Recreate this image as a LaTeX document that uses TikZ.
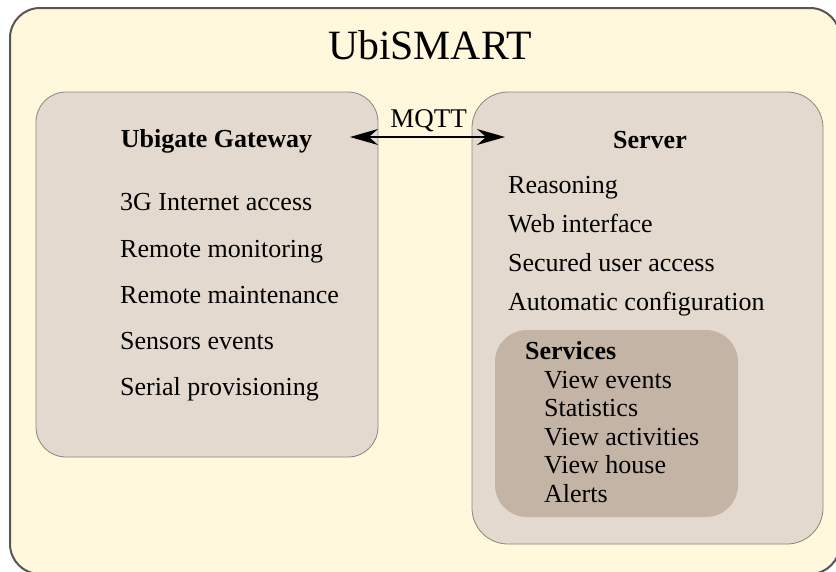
\documentclass[tikz,border=0pt]{standalone}
\usepackage{fontspec}
\setmainfont{Liberation Serif}
\usetikzlibrary{arrows.meta}
\definecolor{outerfill}{HTML}{FFF8DC}
\definecolor{outerline}{HTML}{5A5555}
\definecolor{boxfill}{HTML}{E4D9CE}
\definecolor{boxline}{HTML}{8C8480}
\definecolor{svcfill}{HTML}{C4B4A6}
\tikzset{
  item/.style={anchor=base west, inner sep=0pt, font=\fontsize{26}{28}\selectfont},
  head/.style={anchor=base, inner sep=0pt, font=\fontsize{26}{28}\selectfont\bfseries},
  svchead/.style={anchor=base west, inner sep=0pt, font=\fontsize{26}{28}\selectfont\bfseries},
}
\begin{document}
\begin{tikzpicture}[x=1pt,y=-1pt]
\useasboundingbox (0,0) rectangle (836,571);
% outer box
\draw[outerline, line width=2pt, fill=outerfill, rounded corners=30pt] (10,8) rectangle (840,574);
\node[anchor=base, inner sep=0pt, font=\fontsize{41.7}{44}\selectfont] (title) at (430,59) {UbiSMART};
% gateway box
\draw[boxline, line width=0.8pt, fill=boxfill, rounded corners=30pt] (36,92) rectangle (378,457);
\node (gwbox) at (207,274.5) {};
% server box
\draw[boxline, line width=0.8pt, fill=boxfill, rounded corners=36pt] (472,92) rectangle (823,544);
\node (srvbox) at (647.5,318) {};
% services box
\fill[svcfill, rounded corners=32pt] (495,330) rectangle (738,517);
% gateway texts
\node[head] (gwtitle) at (216.5,147) {Ubigate Gateway};
\node[item] (g1) at (120,210) {3G Internet access};
\node[item] (g2) at (120,257) {Remote monitoring};
\node[item] (g3) at (120,303) {Remote maintenance};
\node[item] (g4) at (120,349) {Sensors events};
\node[item] (g5) at (120,395) {Serial provisioning};
% server texts
\node[head] (srvtitle) at (650,148) {Server};
\node[item] (s1) at (508,193) {Reasoning};
\node[item] (s2) at (508,232) {Web interface};
\node[item] (s3) at (508,271) {Secured user access};
\node[item] (s4) at (508,310) {Automatic configuration};
% services
\node[svchead] (svctitle) at (525,359) {Services};
\node[item] (v1) at (544,388) {View events};
\node[item] (v2) at (544,416.5) {Statistics};
\node[item] (v3) at (544,445) {View activities};
\node[item] (v4) at (544,473.5) {View house};
\node[item] (v5) at (544,502) {Alerts};
% MQTT
\node[anchor=base, inner sep=0pt, font=\fontsize{27}{29}\selectfont] (mqtt) at (428.5,127) {MQTT};
\coordinate (aL) at (350,137);
\coordinate (aR) at (505,137);
\draw[line width=2pt, {Stealth[length=28pt,width=16pt]}-{Stealth[length=28pt,width=16pt]}] (aL) -- (aR);
\end{tikzpicture}
\end{document}
